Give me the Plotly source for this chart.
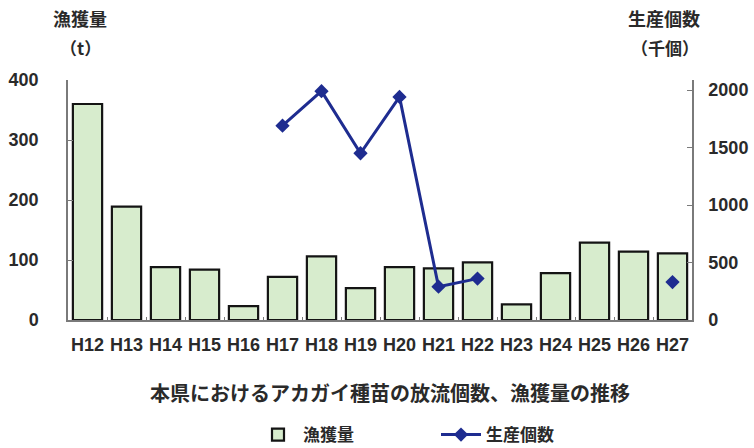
import plotly.graph_objects as go

# 年度
years = ["H12", "H13", "H14", "H15", "H16", "H17", "H18", "H19",
         "H20", "H21", "H22", "H23", "H24", "H25", "H26", "H27"]

# 漁獲量 (t)
catch_t = [360, 189, 88, 84, 23, 72, 106, 53, 88, 86, 96, 26, 78, 129, 114, 111]

# 生産個数 (千個)
seed_k = [None, None, None, None, None, 1690, 1990, 1450, 1940, 290, 360,
          None, None, None, None, 330]

left_ticks = [0, 100, 200, 300, 400]
right_ticks = [0, 500, 1000, 1500, 2000]

JP = "Noto Sans CJK JP"
NUM = "Liberation Sans"
TXT = "#2a2a2a"
AXIS = "#7a7a7a"

W, H = 754, 448
ML, MR, MT, MB = 68, 62, 80, 128


def px_to_paper(px, py):
    """Convert page pixels to paper coordinates of the plot area."""
    return (px - ML) / (W - ML - MR), (H - MB - py) / (H - MT - MB)


fig = go.Figure()

fig.add_trace(go.Bar(
    x=years, y=catch_t, name="漁獲量",
    marker=dict(color="#d7eccd", line=dict(color="#141414", width=2.2)),
    yaxis="y",
))

fig.add_trace(go.Scatter(
    x=years, y=seed_k, name="生産個数",
    mode="lines+markers",
    line=dict(color="#1e2c90", width=3),
    marker=dict(symbol="diamond", size=11, color="#1e2c90"),
    connectgaps=False,
    yaxis="y2",
))

lx, ly = px_to_paper(253, 435)

fig.update_layout(
    width=W, height=H,
    margin=dict(l=ML, r=MR, t=MT, b=MB, autoexpand=False),
    plot_bgcolor="white", paper_bgcolor="white",
    font=dict(family=JP, size=14, color=TXT),
    bargap=0.25,
    showlegend=True,
    legend=dict(
        orientation="h", x=lx, xanchor="left", y=ly, yanchor="middle",
        font=dict(family=JP, size=17, color=TXT, weight="bold"),
        entrywidth=128, itemwidth=40, bgcolor="rgba(0,0,0,0)",
    ),
    xaxis=dict(
        type="category", range=[-0.5, len(years) - 0.5],
        showline=True, linecolor=AXIS, linewidth=1.5,
        ticks="inside", tickson="boundaries", ticklen=3, tickcolor=AXIS,
        tickangle=0,
        tickfont=dict(family=NUM, size=18, color=TXT, weight="bold"),
        showgrid=False, ticklabelstandoff=8,
    ),
    yaxis=dict(
        range=[0, 400], tickvals=left_ticks, showline=True, linecolor=AXIS,
        linewidth=1.5, ticks="inside", ticklen=5, tickcolor=AXIS,
        showgrid=False, zeroline=False,
        tickfont=dict(family=NUM, size=18, color=TXT, weight="bold"),
        ticklabelstandoff=24,
    ),
    yaxis2=dict(
        range=[0, 2087], tickvals=right_ticks, overlaying="y", side="right",
        showline=True, linecolor=AXIS, linewidth=1.5, ticks="inside",
        ticklen=5, tickcolor=AXIS, showgrid=False, zeroline=False,
        tickfont=dict(family=NUM, size=18, color=TXT, weight="bold"),
        ticklabelstandoff=11,
    ),
)

annotations = []
for text, px, py, size in [("漁獲量", 80, 18, 18), ("（t）", 80, 47, 17),
                           ("生産個数", 664, 18, 18), ("（千個）", 665, 47, 17),
                           ("本県におけるアカガイ種苗の放流個数、漁獲量の推移",
                            390, 392, 20)]:
    x, y = px_to_paper(px, py)
    annotations.append(dict(
        text=text, x=x, y=y, xref="paper", yref="paper", showarrow=False,
        xanchor="center", yanchor="middle",
        font=dict(family=JP, size=size, color=TXT, weight="bold"),
    ))
fig.update_layout(annotations=annotations)

fig.write_html("out.html")
